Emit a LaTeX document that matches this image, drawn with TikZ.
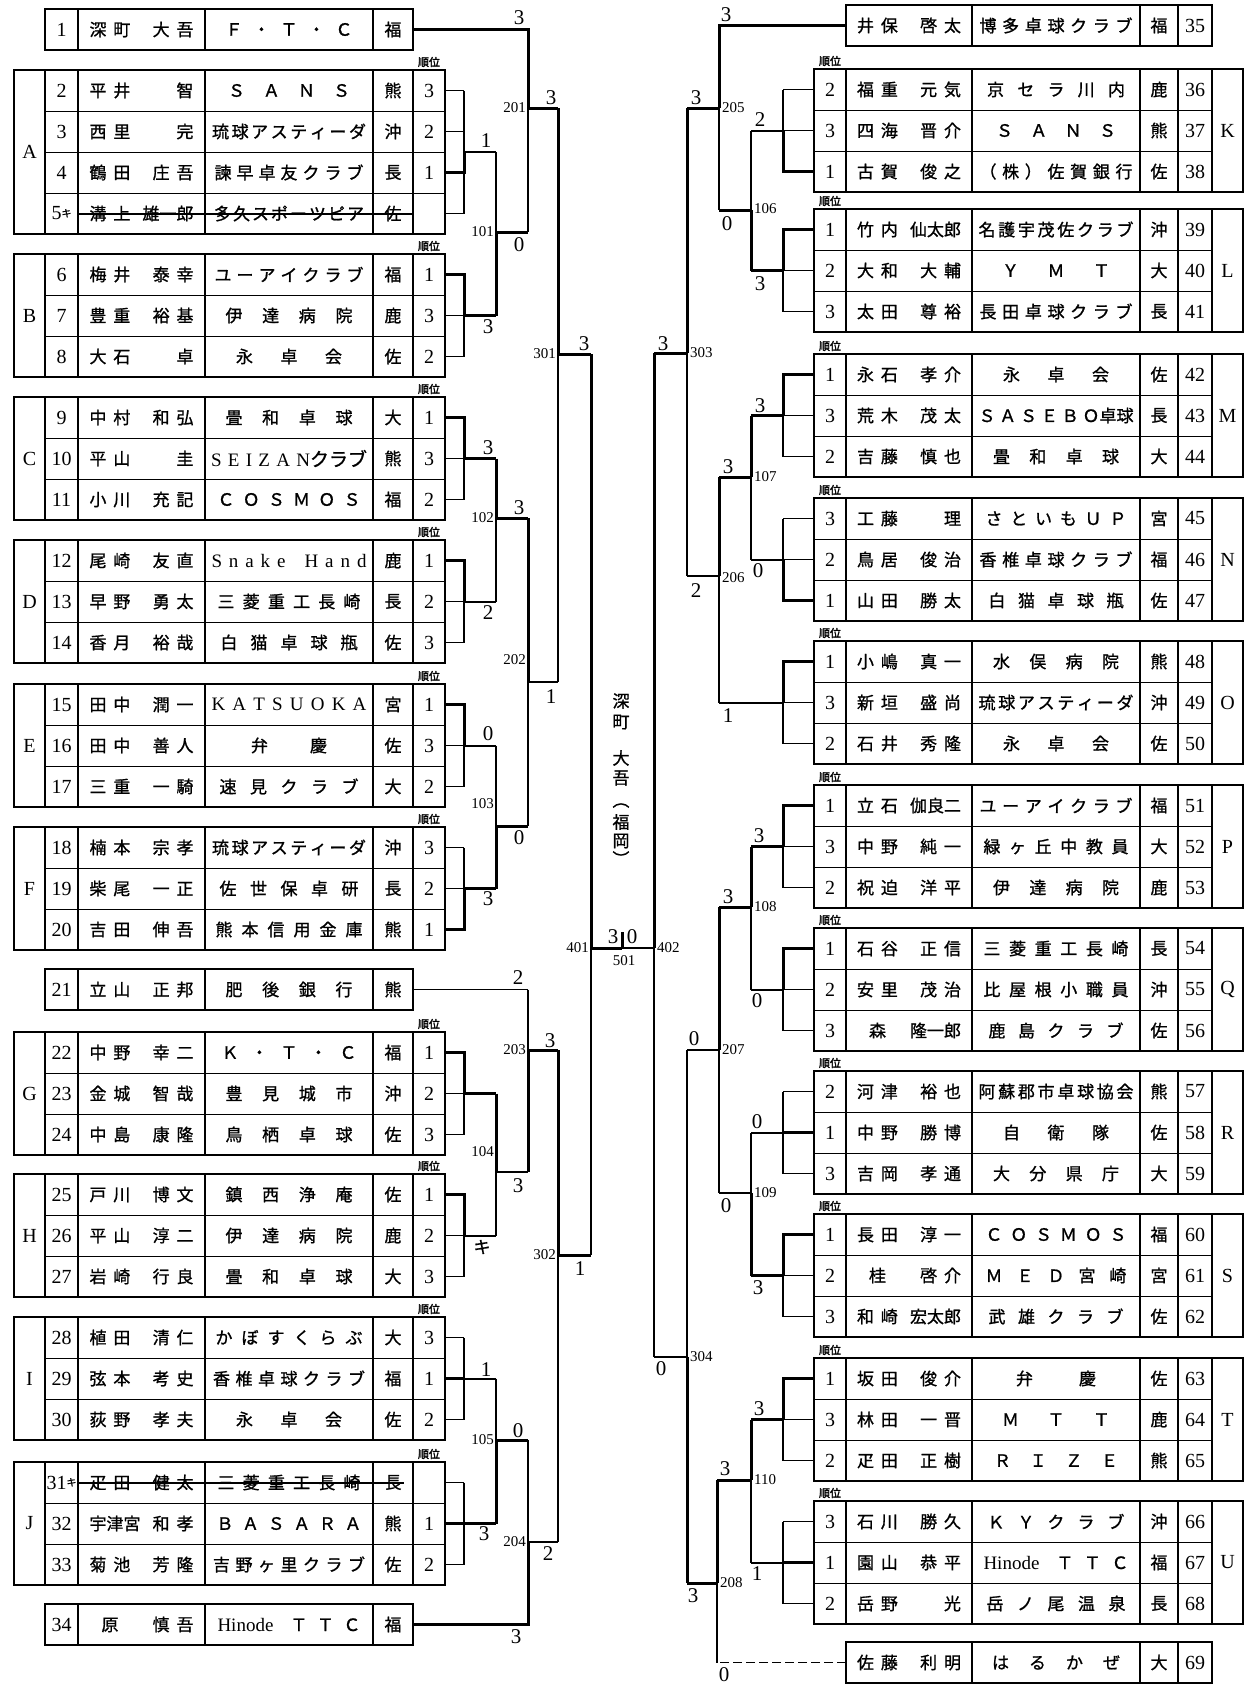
\documentclass[tikz,border=0pt]{standalone}
\usepackage{fontspec}
\setmainfont{Liberation Serif}
\newfontfamily\jp[WordSpace=1.8,FakeBold=1]{Noto Sans CJK JP}
\newfontfamily\jpt[WordSpace=0.2,FakeBold=1.1]{Noto Sans CJK JP}
\newfontfamily\jpb[FakeBold=2]{Noto Sans CJK JP}
\usetikzlibrary{calc}

% name cell: surname left, given name right
\newcommand{\nm}[2]{\makebox[104pt]{#1\hfill#2}}
% club cell spread over a width
\newcommand{\cl}[2]{\makebox[#1pt][s]{\jpt #2}}
% small ki mark (withdrawn)
\newcommand{\kk}{\raisebox{3pt}{\jp\fontsize{10}{10}\selectfont キ}}

\tikzset{
  frame/.style={line width=1.8pt},
  cell/.style={line width=1.1pt},
  sep/.style={line width=0.9pt},
  thn/.style={line width=1.2pt},
  mid/.style={line width=2pt},
  win/.style={line width=3pt},
  strike/.style={line width=2pt},
  dash69/.style={line width=1.4pt, dash pattern=on 9pt off 4pt},
  numtx/.style={font=\fontsize{20}{20}\selectfont, inner sep=0pt},
  jtx/.style={font=\jp\fontsize{17}{17}\selectfont, inner sep=0pt},
  rank/.style={font=\jpb\fontsize{11}{11}\selectfont, inner sep=0pt},
  score/.style={font=\fontsize{21}{21}\selectfont, inner sep=0pt},
  rnd/.style={font=\fontsize{15}{15}\selectfont, inner sep=1pt},
  vtx/.style={font=\jp\fontsize{17}{17}\selectfont, inner sep=0pt}
}

% left side: group frame, row, single entry, connector
\newcommand{\lgrp}[3]{%
  \pgfmathsetmacro{\gb}{#1+#2*41}
  \pgfmathtruncatemacro{\gn}{#2-1}
  \draw[frame] (14,#1) rectangle (445,\gb);
  \foreach \x in {45,78,413} \draw[frame] (\x,#1) -- (\x,\gb);
  \foreach \x in {205,373} \draw[cell] (\x,#1) -- (\x,\gb);
  \foreach \i in {1,...,\gn} \draw[sep] (45,{#1+\i*41}) -- (445,{#1+\i*41});
  \node[numtx] at (29.5,{#1+#2*20.5}) {#3};
  \node[rank] at (429,#1-8) {順位};
}
\newcommand{\lrow}[7]{%
  \pgfmathsetmacro{\yc}{#1+(#2-0.5)*41}
  \node[numtx] at (61.5,\yc) {#3};
  \node[jtx] at (141.5,\yc) {#4};
  \node[jtx] at (289,\yc) {#5};
  \node[jtx] at (393,\yc) {#6};
  \node[numtx] at (429,\yc) {#7};
}
\newcommand{\lone}[5]{%
  \draw[frame] (45,#1) rectangle (413,#1+41);
  \draw[frame] (78,#1) -- (78,#1+41);
  \foreach \x in {205,373} \draw[cell] (\x,#1) -- (\x,#1+41);
  \node[numtx] at (61.5,#1+20.5) {#2};
  \node[jtx] at (141.5,#1+20.5) {#3};
  \node[jtx] at (289,#1+20.5) {#4};
  \node[jtx] at (393,#1+20.5) {#5};
}
\newcommand{\lgc}[4]{%
  \pgfmathsetmacro{\ya}{#1+20.5}
  \pgfmathsetmacro{\yb}{#1+(#2-0.5)*41}
  \pgfmathsetmacro{\yo}{#1+#2*20.5}
  \pgfmathsetmacro{\yw}{#1+(#3-0.5)*41}
  \foreach \i in {1,...,#2} \draw[thn] (445,{#1+(\i-0.5)*41}) -- (464,{#1+(\i-0.5)*41});
  \draw[thn] (464,\ya) -- (464,\yb);
  \draw[win] (445,\yw) -- (464,\yw) -- (464,\yo);
  \draw[#4] (464,\yo) -- (496,\yo);
}

% right side: group frame, row, single entry, connector
\newcommand{\rgrp}[3]{%
  \pgfmathsetmacro{\gb}{#1+#2*41}
  \pgfmathtruncatemacro{\gn}{#2-1}
  \draw[frame] (814,#1) rectangle (1243,\gb);
  \foreach \x in {846,1178,1212} \draw[frame] (\x,#1) -- (\x,\gb);
  \foreach \x in {972,1140} \draw[cell] (\x,#1) -- (\x,\gb);
  \foreach \i in {1,...,\gn} \draw[sep] (814,{#1+\i*41}) -- (1212,{#1+\i*41});
  \node[numtx] at (1227.5,{#1+#2*20.5}) {#3};
  \node[rank] at (830,#1-8) {順位};
}
\newcommand{\rrow}[7]{%
  \pgfmathsetmacro{\yc}{#1+(#2-0.5)*41}
  \node[numtx] at (830,\yc) {#3};
  \node[jtx] at (909,\yc) {#4};
  \node[jtx] at (1056,\yc) {#5};
  \node[jtx] at (1159,\yc) {#6};
  \node[numtx] at (1195,\yc) {#7};
}
\newcommand{\rone}[5]{%
  \draw[frame] (846,#1) rectangle (1212,#1+41);
  \draw[frame] (1178,#1) -- (1178,#1+41);
  \foreach \x in {972,1140} \draw[cell] (\x,#1) -- (\x,#1+41);
  \node[jtx] at (909,#1+20.5) {#2};
  \node[jtx] at (1056,#1+20.5) {#3};
  \node[jtx] at (1159,#1+20.5) {#4};
  \node[numtx] at (1195,#1+20.5) {#5};
}
\newcommand{\rgc}[5]{%
  \pgfmathsetmacro{\ya}{#1+20.5}
  \pgfmathsetmacro{\yb}{#1+(#2-0.5)*41}
  \pgfmathsetmacro{\yo}{#1+#2*20.5}
  \pgfmathsetmacro{\yw}{#1+(#3-0.5)*41}
  \foreach \i in {1,...,#2} \draw[thn] (814,{#1+(\i-0.5)*41}) -- (783,{#1+(\i-0.5)*41});
  \draw[thn] (783,\ya) -- (783,\yb);
  \draw[win] (814,\yw) -- (783,\yw) -- (783,\yo);
  \draw[#4] (783,\yo) -- (#5,\yo);
}

\begin{document}
\begin{tikzpicture}[x=1pt,y=-1pt]
  \useasboundingbox (0,0) rectangle (1249,1684);
  \fill[white] (0,0) rectangle (1249,1684);

  % ---------- left table ----------
  \lone{9}{1}{\nm{深 町}{大 吾}}{\cl{127}{Ｆ ・ Ｔ ・ Ｃ}}{福}

  \lgrp{70}{4}{A}
  \lrow{70}{1}{2}{\nm{平 井}{智}}{\cl{122}{Ｓ Ａ Ｎ Ｓ}}{熊}{3}
  \lrow{70}{2}{3}{\nm{西 里}{完}}{\cl{154}{琉 球 ア ス テ ィ ー ダ}}{沖}{2}
  \lrow{70}{3}{4}{\nm{鶴 田}{庄 吾}}{\cl{149}{諫 早 卓 友 ク ラ ブ}}{長}{1}
  \lrow{70}{4}{5\kk}{\nm{溝 上}{雄一郎}}{\cl{150}{多 久 ス ポ ー ツ ピ ア}}{佐}{}
  \draw[strike] (78,213.5) -- (412,213.5);

  \lgrp{254}{3}{B}
  \lrow{254}{1}{6}{\nm{梅 井}{泰 幸}}{\cl{149}{ユ ー ア イ ク ラ ブ}}{福}{1}
  \lrow{254}{2}{7}{\nm{豊 重}{裕 基}}{\cl{127}{伊 達 病 院}}{鹿}{3}
  \lrow{254}{3}{8}{\nm{大 石}{卓}}{\cl{106}{永 卓 会}}{佐}{2}

  \lgrp{397}{3}{C}
  \lrow{397}{1}{9}{\nm{中 村}{和 弘}}{\cl{127}{畳 和 卓 球}}{大}{1}
  \lrow{397}{2}{10}{\nm{平 山}{圭}}{\cl{156}{\rmfamily\fontsize{19}{19}\selectfont S E I Z A N\jpt クラブ}}{熊}{3}
  \lrow{397}{3}{11}{\nm{小 川}{充 記}}{\cl{143}{Ｃ Ｏ Ｓ Ｍ Ｏ Ｓ}}{福}{2}

  \lgrp{540}{3}{D}
  \lrow{540}{1}{12}{\nm{尾 崎}{友 直}}{\cl{155}{\rmfamily\fontsize{19}{19}\selectfont S n a k e\quad H a n d}}{鹿}{1}
  \lrow{540}{2}{13}{\nm{早 野}{勇 太}}{\cl{143}{三 菱 重 工 長 崎}}{長}{2}
  \lrow{540}{3}{14}{\nm{香 月}{裕 哉}}{\cl{137}{白 猫 卓 球 瓶}}{佐}{3}

  \lgrp{684}{3}{E}
  \lrow{684}{1}{15}{\nm{田 中}{潤 一}}{\cl{155}{\rmfamily\fontsize{19}{19}\selectfont K A T S U O K A}}{宮}{1}
  \lrow{684}{2}{16}{\nm{田 中}{善 人}}{\cl{76}{弁 慶}}{佐}{3}
  \lrow{684}{3}{17}{\nm{三 重}{一 騎}}{\cl{139}{速 見 ク ラ ブ}}{大}{2}

  \lgrp{827}{3}{F}
  \lrow{827}{1}{18}{\nm{楠 本}{宗 孝}}{\cl{154}{琉 球 ア ス テ ィ ー ダ}}{沖}{3}
  \lrow{827}{2}{19}{\nm{柴 尾}{一 正}}{\cl{139}{佐 世 保 卓 研}}{長}{2}
  \lrow{827}{3}{20}{\nm{吉 田}{伸 吾}}{\cl{147}{熊 本 信 用 金 庫}}{熊}{1}

  \lone{969}{21}{\nm{立 山}{正 邦}}{\cl{127}{肥 後 銀 行}}{熊}

  \lgrp{1032}{3}{G}
  \lrow{1032}{1}{22}{\nm{中 野}{幸 二}}{\cl{135}{Ｋ ・ Ｔ ・ Ｃ}}{福}{1}
  \lrow{1032}{2}{23}{\nm{金 城}{智 哉}}{\cl{127}{豊 見 城 市}}{沖}{2}
  \lrow{1032}{3}{24}{\nm{中 島}{康 隆}}{\cl{127}{鳥 栖 卓 球}}{佐}{3}

  \lgrp{1174}{3}{H}
  \lrow{1174}{1}{25}{\nm{戸 川}{博 文}}{\cl{127}{鎮 西 浄 庵}}{佐}{1}
  \lrow{1174}{2}{26}{\nm{平 山}{淳 二}}{\cl{127}{伊 達 病 院}}{鹿}{2}
  \lrow{1174}{3}{27}{\nm{岩 崎}{行 良}}{\cl{127}{畳 和 卓 球}}{大}{3}

  \lgrp{1317}{3}{I}
  \lrow{1317}{1}{28}{\nm{植 田}{清 仁}}{\cl{147}{か ぼ す く ら ぶ}}{大}{3}
  \lrow{1317}{2}{29}{\nm{弦 本}{考 史}}{\cl{152}{香 椎 卓 球 ク ラ ブ}}{福}{1}
  \lrow{1317}{3}{30}{\nm{荻 野}{孝 夫}}{\cl{106}{永 卓 会}}{佐}{2}

  \lgrp{1462}{3}{J}
  \lrow{1462}{1}{31\kk}{\nm{疋 田}{健 太}}{\cl{143}{三 菱 重 工 長 崎}}{長}{}
  \lrow{1462}{2}{32}{\nm{宇津宮}{和 孝}}{\cl{145}{Ｂ Ａ Ｓ Ａ Ｒ Ａ}}{熊}{1}
  \lrow{1462}{3}{33}{\nm{菊 池}{芳 隆}}{\cl{152}{吉 野 ヶ 里 ク ラ ブ}}{佐}{2}
  \draw[strike] (78,1482.5) -- (404,1482.5);

  \lone{1604}{34}{\nm{\hspace{12pt}原}{慎 吾}}{\cl{143}{{\rmfamily\fontsize{19}{19}\selectfont Hinode}\quad Ｔ Ｔ Ｃ}}{福}

  % group connectors, left
  \lgc{70}{4}{3}{mid}
  \lgc{254}{3}{1}{win}
  \lgc{397}{3}{1}{win}
  \lgc{540}{3}{1}{mid}
  \lgc{684}{3}{1}{mid}
  \lgc{827}{3}{3}{win}
  \lgc{1032}{3}{1}{win}
  \lgc{1174}{3}{1}{mid}
  \lgc{1317}{3}{2}{mid}
  \lgc{1462}{3}{2}{win}

  % 101
  \draw[mid] (496,152) -- (496,232);
  \draw[win] (496,232) -- (496,315.5);
  \draw[win] (496,232) -- (528,232);
  \node[rnd,anchor=east] at (495,232) {101};
  \node[score] at (486,141) {1};
  \node[score] at (488,327) {3};
  \node[score] at (519,245) {0};
  % 1 and 201
  \draw[win] (413,29.5) -- (528,29.5) -- (528,108);
  \draw[mid] (528,108) -- (528,232);
  \draw[win] (528,108) -- (558,108);
  \node[rnd,anchor=east] at (527,108) {201};
  \node[score] at (519,18) {3};
  \node[score] at (551,98) {3};
  % 102
  \draw[win] (496,458.5) -- (496,518);
  \draw[mid] (496,518) -- (496,601.5);
  \draw[win] (496,518) -- (528,518);
  \node[rnd,anchor=east] at (495,518) {102};
  \node[score] at (488,448) {3};
  \node[score] at (488,613) {2};
  \node[score] at (519,508) {3};
  % 103
  \draw[mid] (496,745.5) -- (496,826);
  \draw[win] (496,826) -- (496,888.5);
  \draw[win] (496,826) -- (528,826);
  \node[rnd,anchor=east] at (495,804) {103};
  \node[score] at (488,734) {0};
  \node[score] at (488,899) {3};
  \node[score] at (519,838) {0};
  % 202
  \draw[win] (528,518) -- (528,682);
  \draw[mid] (528,682) -- (528,826);
  \draw[mid] (528,682) -- (558,682);
  \node[rnd,anchor=east] at (527,660) {202};
  \node[score] at (551,697) {1};
  % 301
  \draw[win] (558,108) -- (558,354);
  \draw[mid] (558,354) -- (558,682);
  \draw[win] (558,354) -- (591,354);
  \node[rnd,anchor=east] at (557,354) {301};
  \node[score] at (584,344) {3};
  % 21
  \draw[thn] (413,989.5) -- (528,989.5);
  \node[score] at (518,978) {2};
  % 104
  \draw[win] (496,1093.5) -- (496,1172);
  \draw[mid] (496,1172) -- (496,1235.5);
  \draw[mid] (496,1172) -- (528,1172);
  \node[rnd,anchor=east] at (495,1152) {104};
  \node[jtx] at (482,1247) {キ};
  \node[score] at (518,1186) {3};
  % 203
  \draw[mid] (528,989.5) -- (528,1050);
  \draw[win] (528,1050) -- (528,1172);
  \draw[win] (528,1050) -- (558,1050);
  \node[rnd,anchor=east] at (527,1050) {203};
  \node[score] at (550,1041) {3};
  % 105
  \draw[mid] (496,1378.5) -- (496,1440);
  \draw[win] (496,1440) -- (496,1523.5);
  \draw[win] (496,1440) -- (528,1440);
  \node[rnd,anchor=east] at (495,1440) {105};
  \node[score] at (486,1370) {1};
  \node[score] at (484,1534) {3};
  \node[score] at (518,1431) {0};
  % 34 and 204
  \draw[win] (413,1624.5) -- (528,1624.5) -- (528,1542);
  \draw[mid] (528,1542) -- (528,1440);
  \draw[mid] (528,1542) -- (558,1542);
  \node[rnd,anchor=east] at (527,1542) {204};
  \node[score] at (516,1637) {3};
  \node[score] at (548,1554) {2};
  % 302
  \draw[win] (558,1050) -- (558,1255);
  \draw[mid] (558,1255) -- (558,1542);
  \draw[win] (558,1255) -- (591,1255);
  \node[rnd,anchor=east] at (557,1255) {302};
  \node[score] at (580,1269) {1};
  % 401 / 501 / 402
  \draw[win] (591,354) -- (591,948);
  \draw[mid] (591,948) -- (591,1255);
  \draw[win] (591,948) -- (622,948);
  \draw[mid] (622,948) -- (654,948);
  \draw[win] (622,932) -- (622,948);
  \node[rnd,anchor=east] at (590,948) {401};
  \node[rnd,anchor=west] at (656,948) {402};
  \node[score] at (613,937) {3};
  \node[score] at (632,937) {0};
  \node[rnd] at (624,961) {501};

  % champion, vertical
  \node[vtx] at (621,701) {深};
  \node[vtx] at (621,722) {町};
  \node[vtx] at (621,758) {大};
  \node[vtx] at (621,778) {吾};
  \node[vtx,rotate=-90] at (621,800) {（};
  \node[vtx] at (621,822) {福};
  \node[vtx] at (621,841) {岡};
  \node[vtx,rotate=-90] at (621,859) {）};

  % ---------- right table ----------
  \rone{5}{\nm{井 保}{啓 太}}{\cl{153}{博 多 卓 球 ク ラ ブ}}{福}{35}

  \rgrp{69}{3}{K}
  \rrow{69}{1}{2}{\nm{福 重}{元 気}}{\cl{138}{京 セ ラ 川 内}}{鹿}{36}
  \rrow{69}{2}{3}{\nm{四 海}{晋 介}}{\cl{120}{Ｓ Ａ Ｎ Ｓ}}{熊}{37}
  \rrow{69}{3}{1}{\nm{古 賀}{俊 之}}{\cl{153}{（ 株 ） 佐 賀 銀 行}}{佐}{38}

  \rgrp{209}{3}{L}
  \rrow{209}{1}{1}{\nm{竹 内}{仙太郎}}{\cl{155}{名 護 宇 茂 佐 ク ラ ブ}}{沖}{39}
  \rrow{209}{2}{2}{\nm{大 和}{大 輔}}{\cl{108}{Ｙ Ｍ Ｔ}}{大}{40}
  \rrow{209}{3}{3}{\nm{太 田}{尊 裕}}{\cl{153}{長 田 卓 球 ク ラ ブ}}{長}{41}

  \rgrp{354}{3}{M}
  \rrow{354}{1}{1}{\nm{永 石}{孝 介}}{\cl{106}{永 卓 会}}{佐}{42}
  \rrow{354}{2}{3}{\nm{荒 木}{茂 太}}{\cl{155}{Ｓ Ａ Ｓ Ｅ Ｂ Ｏ卓球}}{長}{43}
  \rrow{354}{3}{2}{\nm{吉 藤}{慎 也}}{\cl{126}{畳 和 卓 球}}{大}{44}

  \rgrp{498}{3}{N}
  \rrow{498}{1}{3}{\nm{工 藤}{理}}{\cl{141}{さ と い も Ｕ Ｐ}}{宮}{45}
  \rrow{498}{2}{2}{\nm{鳥 居}{俊 治}}{\cl{153}{香 椎 卓 球 ク ラ ブ}}{福}{46}
  \rrow{498}{3}{1}{\nm{山 田}{勝 太}}{\cl{135}{白 猫 卓 球 瓶}}{佐}{47}

  \rgrp{641}{3}{O}
  \rrow{641}{1}{1}{\nm{小 嶋}{真 一}}{\cl{126}{水 俣 病 院}}{熊}{48}
  \rrow{641}{2}{3}{\nm{新 垣}{盛 尚}}{\cl{155}{琉 球 ア ス テ ィ ー ダ}}{沖}{49}
  \rrow{641}{3}{2}{\nm{石 井}{秀 隆}}{\cl{106}{永 卓 会}}{佐}{50}

  \rgrp{785}{3}{P}
  \rrow{785}{1}{1}{\nm{立 石}{伽良二}}{\cl{153}{ユ ー ア イ ク ラ ブ}}{福}{51}
  \rrow{785}{2}{3}{\nm{中 野}{純 一}}{\cl{145}{緑 ヶ 丘 中 教 員}}{大}{52}
  \rrow{785}{3}{2}{\nm{祝 迫}{洋 平}}{\cl{126}{伊 達 病 院}}{鹿}{53}

  \rgrp{928}{3}{Q}
  \rrow{928}{1}{1}{\nm{石 谷}{正 信}}{\cl{145}{三 菱 重 工 長 崎}}{長}{54}
  \rrow{928}{2}{2}{\nm{安 里}{茂 治}}{\cl{145}{比 屋 根 小 職 員}}{沖}{55}
  \rrow{928}{3}{3}{\nm{\hspace{12pt}森}{隆一郎}}{\cl{135}{鹿 島 ク ラ ブ}}{佐}{56}

  \rgrp{1071}{3}{R}
  \rrow{1071}{1}{2}{\nm{河 津}{裕 也}}{\cl{155}{阿 蘇 郡 市 卓 球 協 会}}{熊}{57}
  \rrow{1071}{2}{1}{\nm{中 野}{勝 博}}{\cl{106}{自 衛 隊}}{佐}{58}
  \rrow{1071}{3}{3}{\nm{吉 岡}{孝 通}}{\cl{126}{大 分 県 庁}}{大}{59}

  \rgrp{1214}{3}{S}
  \rrow{1214}{1}{1}{\nm{長 田}{淳 一}}{\cl{141}{Ｃ Ｏ Ｓ Ｍ Ｏ Ｓ}}{福}{60}
  \rrow{1214}{2}{2}{\nm{\hspace{12pt}桂}{啓 介}}{\cl{141}{Ｍ Ｅ Ｄ 宮 崎}}{宮}{61}
  \rrow{1214}{3}{3}{\nm{和 崎}{宏太郎}}{\cl{135}{武 雄 ク ラ ブ}}{佐}{62}

  \rgrp{1358}{3}{T}
  \rrow{1358}{1}{1}{\nm{坂 田}{俊 介}}{\cl{80}{弁 慶}}{佐}{63}
  \rrow{1358}{2}{3}{\nm{林 田}{一 晋}}{\cl{108}{Ｍ Ｔ Ｔ}}{鹿}{64}
  \rrow{1358}{3}{2}{\nm{疋 田}{正 樹}}{\cl{124}{Ｒ Ｉ Ｚ Ｅ}}{熊}{65}

  \rgrp{1501}{3}{U}
  \rrow{1501}{1}{3}{\nm{石 川}{勝 久}}{\cl{137}{Ｋ Ｙ ク ラ ブ}}{沖}{66}
  \rrow{1501}{2}{1}{\nm{園 山}{恭 平}}{\cl{145}{{\rmfamily\fontsize{19}{19}\selectfont Hinode}\quad Ｔ Ｔ Ｃ}}{福}{67}
  \rrow{1501}{3}{2}{\nm{岳 野}{光}}{\cl{139}{岳 ノ 尾 温 泉}}{長}{68}

  \rone{1642}{\nm{佐 藤}{利 明}}{\cl{128}{は る か ぜ}}{大}{69}

  % group connectors, right
  \rgc{69}{3}{3}{mid}{751}
  \rgc{209}{3}{1}{win}{751}
  \rgc{354}{3}{1}{win}{751}
  \rgc{498}{3}{3}{mid}{751}
  \rgc{641}{3}{1}{mid}{719}
  \rgc{785}{3}{1}{win}{751}
  \rgc{928}{3}{1}{mid}{751}
  \rgc{1071}{3}{2}{mid}{751}
  \rgc{1214}{3}{1}{win}{751}
  \rgc{1358}{3}{1}{win}{751}
  \rgc{1501}{3}{2}{mid}{751}

  % 35 and 205
  \draw[win] (846,25.5) -- (719,25.5) -- (719,108);
  \draw[mid] (719,108) -- (719,210);
  \draw[win] (719,108) -- (687,108);
  \node[rnd,anchor=west] at (721,108) {205};
  \node[score] at (726,15) {3};
  \node[score] at (696,98) {3};
  % 106
  \draw[mid] (751,130.5) -- (751,210);
  \draw[win] (751,210) -- (751,270.5);
  \draw[win] (751,210) -- (719,210);
  \node[rnd,anchor=west] at (753,209) {106};
  \node[score] at (760,120) {2};
  \node[score] at (760,284) {3};
  \node[score] at (727,224) {0};
  % 303
  \draw[win] (687,108) -- (687,353);
  \draw[mid] (687,353) -- (687,576);
  \draw[win] (687,353) -- (654,353);
  \node[rnd,anchor=west] at (689,353) {303};
  \node[score] at (663,344) {3};
  % 107
  \draw[win] (751,415.5) -- (751,477);
  \draw[mid] (751,477) -- (751,559.5);
  \draw[win] (751,477) -- (719,477);
  \node[rnd,anchor=west] at (753,477) {107};
  \node[score] at (760,406) {3};
  \node[score] at (758,571) {0};
  \node[score] at (728,467) {3};
  % 206
  \draw[win] (719,477) -- (719,576);
  \draw[mid] (719,576) -- (719,702.5);
  \draw[mid] (719,576) -- (687,576);
  \node[rnd,anchor=west] at (721,578) {206};
  \node[score] at (728,716) {1};
  \node[score] at (696,591) {2};
  % 108
  \draw[win] (751,846.5) -- (751,907);
  \draw[mid] (751,907) -- (751,989.5);
  \draw[win] (751,907) -- (719,907);
  \node[rnd,anchor=west] at (753,907) {108};
  \node[score] at (759,836) {3};
  \node[score] at (757,1001) {0};
  \node[score] at (728,897) {3};
  % 109
  \draw[mid] (751,1132.5) -- (751,1193);
  \draw[win] (751,1193) -- (751,1275.5);
  \draw[mid] (751,1193) -- (719,1193);
  \node[rnd,anchor=west] at (753,1193) {109};
  \node[score] at (757,1122) {0};
  \node[score] at (758,1288) {3};
  \node[score] at (726,1206) {0};
  % 207
  \draw[win] (719,907) -- (719,1050);
  \draw[mid] (719,1050) -- (719,1193);
  \draw[mid] (719,1050) -- (687,1050);
  \node[rnd,anchor=west] at (721,1050) {207};
  \node[score] at (694,1039) {0};
  % 110
  \draw[win] (751,1419.5) -- (751,1480);
  \draw[mid] (751,1480) -- (751,1562.5);
  \draw[win] (751,1480) -- (717,1480);
  \node[rnd,anchor=west] at (753,1480) {110};
  \node[score] at (759,1409) {3};
  \node[score] at (757,1574) {1};
  \node[score] at (725,1469) {3};
  % 69 and 208
  \draw[dash69] (846,1662.5) -- (717,1662.5);
  \draw[thn] (717,1662.5) -- (717,1583);
  \draw[win] (717,1480) -- (717,1583);
  \draw[win] (717,1583) -- (687,1583);
  \node[rnd,anchor=west] at (719,1583) {208};
  \node[score] at (724,1675) {0};
  \node[score] at (693,1596) {3};
  % 304
  \draw[mid] (687,1050) -- (687,1357);
  \draw[win] (687,1357) -- (687,1583);
  \draw[mid] (687,1357) -- (654,1357);
  \node[rnd,anchor=west] at (689,1357) {304};
  \node[score] at (661,1369) {0};
  % 402
  \draw[win] (654,353) -- (654,948);
  \draw[mid] (654,948) -- (654,1357);
\end{tikzpicture}
\end{document}
